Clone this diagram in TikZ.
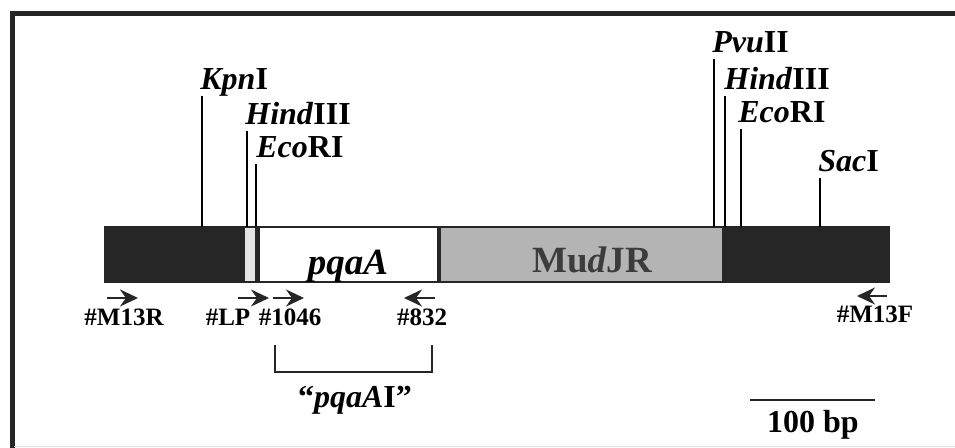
\documentclass[tikz,border=0pt]{standalone}
\usepackage{fontspec}
\setmainfont{Liberation Serif}
\usetikzlibrary{arrows.meta}
\definecolor{segdark}{HTML}{262626}
\definecolor{seggray}{HTML}{B4B4B4}
\definecolor{seglight}{HTML}{E4E4E4}
\definecolor{mudtext}{HTML}{3C3C3C}

\begin{document}
\begin{tikzpicture}[
x=0.5pt, y=-0.5pt,
site/.style={anchor=base west, inner sep=0pt, text depth=2.8pt, font=\fontsize{16}{18}\selectfont\bfseries},
primer/.style={anchor=base, inner sep=0pt, font=\fontsize{12.5}{14}\selectfont\bfseries},
barlabel/.style={anchor=base, inner sep=0pt, font=\fontsize{18.5}{20}\selectfont\bfseries},
cut/.style={line width=1pt},
prarrow/.style={-{Stealth[length=9pt,width=8.5pt,inset=3pt]}, line width=1.2pt, segdark}
]
\useasboundingbox (0,0) rectangle (955,448);
% frame
\draw[line width=2.5pt, black!85] (12,448) -- (12,14) -- (955,14);
\draw[line width=0.4pt, black!12] (14,446) -- (955,446);

% bar segments
\fill[segdark] (105,227) rectangle (245,282);
\fill[seglight] (245,227) rectangle (255,282);
\fill[segdark] (255,227) rectangle (260,282);
\fill[white] (260,227) rectangle (437,282);
\fill[segdark] (437,227) rectangle (441,282);
\fill[seggray] (441,227) rectangle (722,282);
\fill[segdark] (722,227) rectangle (889,282);
\draw[line width=1pt, segdark] (105,227) rectangle (889,282);

\node[barlabel] (pqaa) at (348,275) {\textit{pqaA}};
\node[barlabel, text=mudtext] (mudjr) at (592,273) {Mu\textit{d}JR};

% restriction sites
\coordinate (kpncut) at (202,227);
\node[site] (kpn) at (200,90) {\textit{Kpn}I};
\draw[cut] (kpncut) -- (kpncut |- kpn.south);
\coordinate (hindacut) at (247,227);
\node[site] (hinda) at (245,125) {\textit{Hind}III};
\draw[cut] (hindacut) -- (hindacut |- hinda.south);
\coordinate (ecoacut) at (256,227);
\node[site] (ecoa) at (256,158) {\textit{Eco}RI};
\draw[cut] (ecoacut) -- (ecoacut |- ecoa.south);
\coordinate (pvucut) at (714,227);
\node[site] (pvu) at (712,53) {\textit{Pvu}II};
\draw[cut] (pvucut) -- (pvucut |- pvu.south);
\coordinate (hindbcut) at (725,227);
\node[site] (hindb) at (724,90) {\textit{Hind}III};
\draw[cut] (hindbcut) -- (hindbcut |- hindb.south);
\coordinate (ecobcut) at (741,227);
\node[site] (ecob) at (738,123) {\textit{Eco}RI};
\draw[cut] (ecobcut) -- (ecobcut |- ecob.south);
\coordinate (saccut) at (820,227);
\node[site] (sac) at (818,172) {\textit{Sac}I};
\draw[cut] (saccut) -- (saccut |- sac.south);

% primers
\node[primer] (m13r) at (124,326) {\#M13R};
\node[primer] (lp) at (228,326) {\#LP};
\node[primer] (p1046) at (290,326) {\#1046};
\node[primer] (p832) at (422,326) {\#832};
\node[primer] (m13f) at (875,323) {\#M13F};
\draw[prarrow] (107,298) -- (138,298);
\draw[prarrow] (238,298) -- (269,298);
\draw[prarrow] (273,298) -- (304,298);
\draw[prarrow] (435,298) -- (404,298);
\draw[prarrow] (887,296) -- (857,296);

% amplified fragment
\draw[line width=1pt, segdark] (275,345) |- (432,372) -- (432,345);
\node[site, anchor=base] (pqaai) at (355,408) {“\textit{pqaA}I”};

% scale bar
\draw[line width=1.2pt, segdark] (750,400) -- (875,400);
\node[site, anchor=base] (scale) at (813,433) {100 bp};
\end{tikzpicture}
\end{document}
